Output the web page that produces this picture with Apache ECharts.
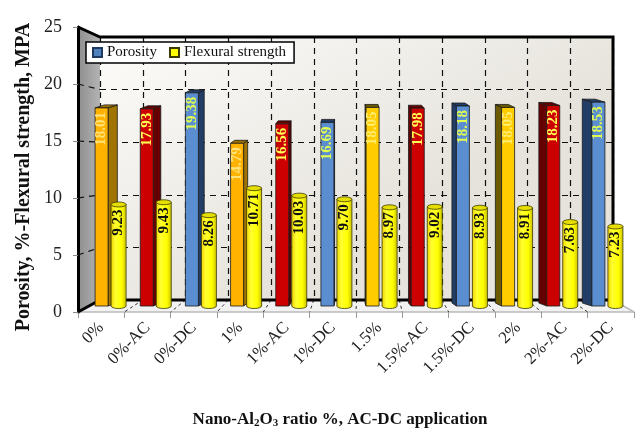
<!DOCTYPE html>
<html>
<head>
<meta charset="utf-8">
<script src="https://cdn.jsdelivr.net/npm/echarts@6/dist/echarts.min.js"></script>
<style>
  html, body { margin: 0; padding: 0; background: #fff; }
  #chart { width: 639px; height: 434px; }
</style>
</head>
<body>
<div id="chart"></div>
<script>
// Porosity (%) and flexural strength (MPa) per nano-Al2O3 ratio and AC/DC treatment
const categories = ['0%', '0%-AC', '0%-DC', '1%', '1%-AC', '1%-DC', '1.5%', '1.5%-AC', '1.5%-DC', '2%', '2%-AC', '2%-DC'];
const porosity = [18.01, 17.93, 19.38, 14.79, 16.56, 16.69, 18.05, 17.98, 18.18, 18.05, 18.23, 18.53];
const flexural = [9.23, 9.43, 8.26, 10.71, 10.03, 9.70, 8.97, 9.02, 8.93, 8.91, 7.63, 7.23];
const yMin = 0, yMax = 25, yStep = 5;

// ---- layout of the pseudo-3D box ----
const W = 639, H = 434;
const FRONT = { l: 78, r: 634, t: 27, b: 312 };   // front plane (axis labels)
const BACK = { l: 100, r: 613, t: 37, b: 300 };   // back wall
const BARS = { l: 86, r: 628, t: 31, b: 306 };    // plane the bars stand in
const SERIF = '"Liberation Serif", "Times New Roman", serif';

const POR_OFF = -7, POR_HW = 6.5;     // porosity box: offset from category centre, half width
const FLX_OFF = 10, FLX_HW = 7.5;     // flexural cylinder
const VANISH = 345, DEPTH_K = 0.038, DEPTH_DY = -3;

const PAL = {
  plainA: { front: '#FFB300', side: '#A07400', label: '#FFE27A' },
  plainB: { front: '#FFCC00', side: '#6B5A00', label: '#FFEC6E' },
  ac:     { front: '#CC0000', side: '#650000', label: '#FFFF55' },
  dc:     { front: '#5B8ED0', side: '#223E66', label: '#E2FF50' }
};
const barStyle = ['plainA', 'ac', 'dc', 'plainA', 'ac', 'dc', 'plainB', 'ac', 'dc', 'plainB', 'ac', 'dc'];

const yFront = v => FRONT.b - (v - yMin) / (yMax - yMin) * (FRONT.b - FRONT.t);
const yBack = v => BACK.b - (v - yMin) / (yMax - yMin) * (BACK.b - BACK.t);

function renderPorosity(params, api) {
  const i = api.value(0), v = api.value(1);
  const top = api.coord([i, v]);
  const base = api.coord([i, 0]);
  const cx = top[0] + POR_OFF;
  const x0 = cx - POR_HW, x1 = cx + POR_HW, yT = top[1], yB = base[1];
  const dx = (VANISH - cx) * DEPTH_K, dy = DEPTH_DY;
  const sx = dx > 0 ? x1 : x0;
  const pal = PAL[barStyle[i]];
  return {
    type: 'group',
    children: [
      { type: 'polygon', shape: { points: [[sx, yT], [sx + dx, yT + dy], [sx + dx, yB + dy], [sx, yB]] },
        style: { fill: pal.side, stroke: '#1a1a1a', lineWidth: 0.8 } },
      { type: 'polygon', shape: { points: [[x0, yT], [x1, yT], [x1 + dx, yT + dy], [x0 + dx, yT + dy]] },
        style: { fill: pal.side, stroke: '#1a1a1a', lineWidth: 0.8 } },
      { type: 'rect', shape: { x: x0, y: yT, width: x1 - x0, height: yB - yT },
        style: { fill: pal.front, stroke: '#1a1a1a', lineWidth: 0.8 } },
      { type: 'text', x: cx, y: yT + 4, rotation: Math.PI / 2,
        style: { text: v.toFixed(2), fill: pal.label, font: 'bold 15px ' + SERIF, align: 'right', verticalAlign: 'middle' } }
    ]
  };
}

function renderFlexural(params, api) {
  const i = api.value(0), v = api.value(1);
  const top = api.coord([i, v]);
  const base = api.coord([i, 0]);
  const cx = top[0] + FLX_OFF;
  const x0 = cx - FLX_HW, x1 = cx + FLX_HW, yT = top[1], yB = base[1];
  const ry = 2.5;
  const body = `M${x0} ${yT} L${x0} ${yB} A${FLX_HW} ${ry} 0 0 0 ${x1} ${yB} L${x1} ${yT} Z`;
  const cap = `M${x0} ${yT} A${FLX_HW} ${ry} 0 1 1 ${x1} ${yT} A${FLX_HW} ${ry} 0 1 1 ${x0} ${yT} Z`;
  return {
    type: 'group',
    children: [
      { type: 'path', shape: { pathData: body },
        style: { fill: { type: 'linear', x: 0, y: 0, x2: 1, y2: 0, colorStops: [
          { offset: 0, color: '#F0D000' }, { offset: 0.3, color: '#FFFF30' },
          { offset: 0.7, color: '#FFFF00' }, { offset: 1, color: '#C8BE00' }] },
          stroke: '#3a3a00', lineWidth: 0.8 } },
      { type: 'path', shape: { pathData: cap },
        style: { fill: '#E6DE00', stroke: '#3a3a00', lineWidth: 0.8 } },
      { type: 'text', x: cx, y: yT + 5, rotation: Math.PI / 2,
        style: { text: v.toFixed(2), fill: '#111', font: 'bold 15px ' + SERIF, align: 'right', verticalAlign: 'middle' } }
    ]
  };
}

// decorations of the box: walls, floor, edges
const dash = { stroke: '#111', lineWidth: 1.2, lineDash: [6, 5] };
const decor = [];
decor.push({ type: 'rect', z: -10, shape: { x: BACK.l, y: BACK.t, width: BACK.r - BACK.l, height: BACK.b - BACK.t },
  style: { fill: { type: 'linear', x: 0, y: 0, x2: 0.3, y2: 1, colorStops: [
    { offset: 0, color: '#FDFCFA' }, { offset: 1, color: '#E6E3DC' }] } } });
decor.push({ type: 'polygon', z: -10,
  shape: { points: [[FRONT.l, FRONT.t], [BACK.l, BACK.t], [BACK.l, BACK.b], [FRONT.l, FRONT.b]] },
  style: { fill: { type: 'linear', x: 0, y: 0, x2: 1, y2: 0, colorStops: [
    { offset: 0, color: '#8E8E8E' }, { offset: 1, color: '#B4B4B4' }] } } });
decor.push({ type: 'polygon', z: -10,
  shape: { points: [[BACK.l, BACK.b], [BACK.r, BACK.b], [FRONT.r, FRONT.b], [FRONT.l, FRONT.b]] },
  style: { fill: '#F2F2F2' } });
for (let v = yMin + yStep; v < yMax; v += yStep) {
  decor.push({ type: 'line', z: 1, shape: { x1: FRONT.l, y1: yFront(v), x2: BACK.l, y2: yBack(v) }, style: dash });
}
const n = categories.length;
for (let k = 1; k < n; k++) {
  decor.push({ type: 'line', z: 1,
    shape: { x1: BACK.l + k * (BACK.r - BACK.l) / n, y1: BACK.b, x2: FRONT.l + k * (FRONT.r - FRONT.l) / n, y2: FRONT.b },
    style: { stroke: '#333', lineWidth: 1, lineDash: [3, 3] } });
}
decor.push({ type: 'polyline', z: 1,
  shape: { points: [[FRONT.l, FRONT.t], [BACK.l, BACK.t], [BACK.r, BACK.t], [BACK.r, BACK.b]] },
  style: { stroke: '#000', lineWidth: 3, fill: null } });
decor.push({ type: 'polyline', z: 1,
  shape: { points: [[FRONT.l, FRONT.b], [BACK.l, BACK.b], [BACK.r, BACK.b]] },
  style: { stroke: '#000', lineWidth: 3, fill: null } });
decor.push({ type: 'line', z: 1, shape: { x1: BACK.r, y1: BACK.b, x2: FRONT.r, y2: FRONT.b },
  style: { stroke: '#BBBBBB', lineWidth: 1.5 } });
// axis titles
decor.push({ type: 'text', z: 5, x: 24, y: 177, rotation: Math.PI / 2,
  style: { text: 'Porosity, %-Flexural strength, MPA', font: 'bold 20px ' + SERIF, fill: '#111', align: 'center', verticalAlign: 'middle' } });
decor.push({ type: 'text', z: 5, x: 340, y: 420,
  style: { text: 'Nano-Al{s|2}O{s|3} ratio %, AC-DC application', font: 'bold 17px ' + SERIF, fill: '#111',
    align: 'center', verticalAlign: 'middle',
    rich: { s: { fontFamily: SERIF, fontWeight: 'bold', fontSize: 11, fill: '#111', verticalAlign: 'bottom', padding: [7, 0, 0, 0] } } } });

const hidden = { show: false };
const option = {
  animation: false,
  backgroundColor: '#fff',
  grid: [
    { left: BACK.l, right: W - BACK.r, top: BACK.t, bottom: H - BACK.b },
    { left: FRONT.l, right: W - FRONT.r, top: FRONT.t, bottom: H - FRONT.b },
    { left: BARS.l, right: W - BARS.r, top: BARS.t, bottom: H - BARS.b }
  ],
  xAxis: [
    { gridIndex: 0, type: 'category', data: categories, axisLine: hidden, axisTick: hidden, axisLabel: hidden,
      splitLine: { show: true, interval: 0, lineStyle: { color: '#111', width: 1.2, type: [6, 5] } } },
    { gridIndex: 1, type: 'category', data: categories,
      axisLine: { lineStyle: { color: '#BBBBBB', width: 1.5 } },
      axisTick: { show: true, interval: 0, length: 6, lineStyle: { color: '#999' } },
      axisLabel: { interval: 0, rotate: 45, margin: 13, fontFamily: SERIF, fontSize: 17, color: '#222' } },
    { gridIndex: 2, type: 'category', data: categories, show: false }
  ],
  yAxis: [
    { gridIndex: 0, type: 'value', min: yMin, max: yMax, interval: yStep, axisLine: hidden, axisTick: hidden, axisLabel: hidden,
      splitLine: { show: true, lineStyle: { color: '#111', width: 1.2, type: [6, 5] } } },
    { gridIndex: 1, type: 'value', min: yMin, max: yMax, interval: yStep,
      axisLine: { show: true, lineStyle: { color: '#000', width: 3 } },
      axisTick: { show: true, length: 5, lineStyle: { color: '#888' } },
      axisLabel: { margin: 16, fontFamily: SERIF, fontSize: 18, color: '#222' },
      splitLine: hidden },
    { gridIndex: 2, type: 'value', min: yMin, max: yMax, show: false, splitLine: hidden }
  ],
  legend: {
    left: 86, top: 42, icon: 'rect', itemWidth: 9, itemHeight: 9, itemGap: 12,
    backgroundColor: '#fff', borderColor: '#000', borderWidth: 1.5, borderRadius: 0, padding: [3, 8, 3, 6],
    textStyle: { fontFamily: SERIF, fontSize: 15, color: '#111' },
    data: ['Porosity', 'Flexural strength']
  },
  graphic: { elements: decor },
  series: [
    { name: 'Porosity', type: 'custom', xAxisIndex: 2, yAxisIndex: 2, z: 3,
      itemStyle: { color: '#4F81BD', borderColor: '#1F3A60', borderWidth: 1 },
      data: porosity.map((v, i) => [i, v]), renderItem: renderPorosity },
    { name: 'Flexural strength', type: 'custom', xAxisIndex: 2, yAxisIndex: 2, z: 4,
      itemStyle: { color: '#FFFF00', borderColor: '#3a3a00', borderWidth: 1 },
      data: flexural.map((v, i) => [i, v]), renderItem: renderFlexural }
  ]
};
echarts.init(document.getElementById('chart')).setOption(option);
</script>
</body>
</html>
